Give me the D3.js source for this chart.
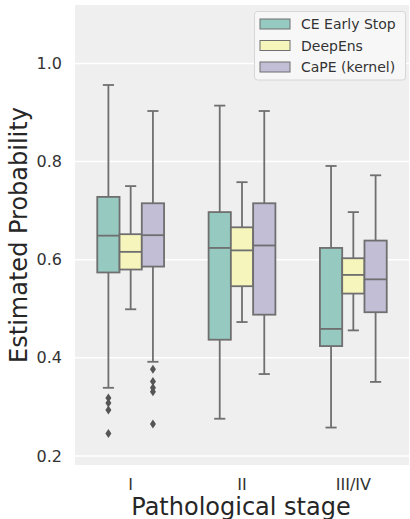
<!DOCTYPE html>
<html lang="en">
<head>
<script type="text/javascript" src="https://cdnjs.cloudflare.com/ajax/libs/d3/7.8.5/d3.min.js"></script>
<style>
body { margin: 0; background: #fff; }
text { font-family: "DejaVu Sans", sans-serif; }
</style>
</head>
<body>
<script type="text/javascript">
    var stages = ["I", "II", "III/IV"]
    var methods = ["CE Early Stop", "DeepEns", "CaPE (kernel)"]
    var colors = ["#96cac1", "#f5f5bc", "#c1bed6"]
    var yTicks = [0.2, 0.4, 0.6, 0.8, 1.0]

    // [whisker low, q1, median, q3, whisker high] per method, per stage
    var ceStats = [
        [0.339, 0.574, 0.649, 0.728, 0.956],
        [0.276, 0.437, 0.624, 0.697, 0.914],
        [0.258, 0.424, 0.459, 0.624, 0.791]
    ]
    var ensStats = [
        [0.499, 0.580, 0.616, 0.652, 0.750],
        [0.473, 0.546, 0.619, 0.666, 0.758],
        [0.456, 0.531, 0.569, 0.603, 0.697]
    ]
    var capeStats = [
        [0.392, 0.586, 0.650, 0.715, 0.903],
        [0.367, 0.488, 0.629, 0.715, 0.903],
        [0.351, 0.493, 0.560, 0.639, 0.772]
    ]
    var ceOutliers = [[0.318, 0.308, 0.294, 0.246], [], []]
    var ensOutliers = [[], [], []]
    var capeOutliers = [[0.377, 0.352, 0.339, 0.331, 0.265], [], []]

    var allStats = [ceStats, ensStats, capeStats]
    var allOutliers = [ceOutliers, ensOutliers, capeOutliers]

    var w = 410
    var h = 519
    var pl = 75, pr = 409, pt = 5, pb = 465
    var edge = "#6f6f6f"

    var svg = d3.select("body").append("svg")
        .attr("width", w)
        .attr("height", h)

    var x = d3.scaleBand().domain(stages).range([pl, pr])
    var hue = d3.scaleBand().domain(methods).range([-0.3, 0.3])
    var y = d3.scaleLinear().domain([0.1817, 1.119]).range([pb, pt])

    svg.append("rect")
        .attr("x", pl).attr("y", pt)
        .attr("width", pr - pl).attr("height", pb - pt)
        .attr("fill", "#efefef")

    svg.selectAll("line.grid")
        .data(yTicks)
        .enter()
        .append("line")
        .attr("class", "grid")
        .attr("x1", pl).attr("x2", pr)
        .attr("y1", function(d) { return y(d) })
        .attr("y2", function(d) { return y(d) })
        .attr("stroke", "#fff")
        .attr("stroke-width", 1.5)

    var yAxis = svg.append("g")
        .attr("transform", "translate(" + pl + ",0)")
        .call(d3.axisLeft(y).tickValues(yTicks).tickFormat(d3.format(".1f")).tickSize(0).tickPadding(13))
    yAxis.select(".domain").remove()
    yAxis.selectAll("text").attr("font-size", 16).attr("fill", "#333")
        .style("font-family", "DejaVu Sans")

    var xAxis = svg.append("g")
        .attr("transform", "translate(0," + pb + ")")
        .call(d3.axisBottom(x).tickSize(0).tickPadding(14))
    xAxis.select(".domain").remove()
    xAxis.selectAll("text").attr("font-size", 16).attr("fill", "#333")
        .style("font-family", "DejaVu Sans")

    var bw = x.bandwidth()
    var boxW = hue.bandwidth() * bw

    methods.forEach(function(m, mi) {
        var stats = allStats[mi]
        var g = svg.append("g")
        var cx = function(si) { return x(stages[si]) + bw / 2 + (hue(m) + hue.bandwidth() / 2) * bw }

        var rows = stats.map(function(s, si) { return { s: s, i: si } })

        // whiskers
        g.selectAll("line.wlo").data(rows).enter().append("line")
            .attr("x1", function(d) { return cx(d.i) }).attr("x2", function(d) { return cx(d.i) })
            .attr("y1", function(d) { return y(d.s[0]) }).attr("y2", function(d) { return y(d.s[1]) })
            .attr("stroke", edge).attr("stroke-width", 1.8)
        g.selectAll("line.whi").data(rows).enter().append("line")
            .attr("x1", function(d) { return cx(d.i) }).attr("x2", function(d) { return cx(d.i) })
            .attr("y1", function(d) { return y(d.s[3]) }).attr("y2", function(d) { return y(d.s[4]) })
            .attr("stroke", edge).attr("stroke-width", 1.8)
        // caps
        ;[0, 4].forEach(function(k) {
            g.selectAll("line.cap" + k).data(rows).enter().append("line")
                .attr("x1", function(d) { return cx(d.i) - boxW / 4 })
                .attr("x2", function(d) { return cx(d.i) + boxW / 4 })
                .attr("y1", function(d) { return y(d.s[k]) }).attr("y2", function(d) { return y(d.s[k]) })
                .attr("stroke", edge).attr("stroke-width", 1.8)
        })
        // boxes
        g.selectAll("rect").data(rows).enter().append("rect")
            .attr("x", function(d) { return cx(d.i) - boxW / 2 })
            .attr("y", function(d) { return y(d.s[3]) })
            .attr("width", boxW)
            .attr("height", function(d) { return y(d.s[1]) - y(d.s[3]) })
            .attr("fill", colors[mi])
            .attr("stroke", edge).attr("stroke-width", 1.8)
        // medians
        g.selectAll("line.med").data(rows).enter().append("line")
            .attr("x1", function(d) { return cx(d.i) - boxW / 2 })
            .attr("x2", function(d) { return cx(d.i) + boxW / 2 })
            .attr("y1", function(d) { return y(d.s[2]) }).attr("y2", function(d) { return y(d.s[2]) })
            .attr("stroke", edge).attr("stroke-width", 1.8)
        // outliers
        var pts = []
        allOutliers[mi].forEach(function(arr, si) {
            arr.forEach(function(v) { pts.push({ v: v, i: si }) })
        })
        g.selectAll("path.out").data(pts).enter().append("path")
            .attr("d", "M0,-4.5L3,0L0,4.5L-3,0Z")
            .attr("transform", function(d) { return "translate(" + cx(d.i) + "," + y(d.v) + ")" })
            .attr("fill", "#555")
    })

    // legend
    var lg = svg.append("g")
    lg.append("rect")
        .attr("x", 254.5).attr("y", 11.5)
        .attr("width", 151).attr("height", 68.5)
        .attr("rx", 3)
        .attr("fill", "#f7f7f7").attr("stroke", "#d6d6d6").attr("stroke-width", 1)
    lg.selectAll("rect.sw").data(methods).enter().append("rect")
        .attr("class", "sw")
        .attr("x", 260).attr("y", function(d, i) { return 19 + i * 21.5 })
        .attr("width", 30).attr("height", 10)
        .attr("fill", function(d, i) { return colors[i] })
        .attr("stroke", edge).attr("stroke-width", 1)
    lg.selectAll("text").data(methods).enter().append("text")
        .attr("x", 301).attr("y", function(d, i) { return 29 + i * 21.5 })
        .attr("font-size", 14).attr("fill", "#333")
        .text(function(d) { return d })

    // axis labels
    svg.append("text")
        .attr("x", (pl + pr) / 2 - 1).attr("y", 515)
        .attr("text-anchor", "middle")
        .attr("font-size", 24).attr("fill", "#262626")
        .text("Pathological stage")
    svg.append("text")
        .attr("transform", "translate(27," + ((pt + pb) / 2) + ") rotate(-90)")
        .attr("text-anchor", "middle")
        .attr("font-size", 24).attr("fill", "#262626")
        .text("Estimated Probability")
</script>
</body>
</html>
